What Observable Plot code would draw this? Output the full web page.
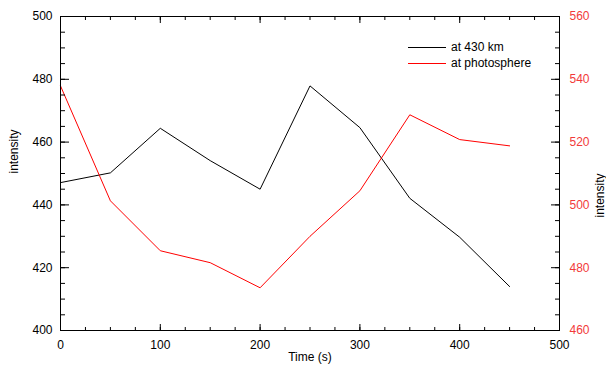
<!DOCTYPE html>
<html><head><meta charset="utf-8">
<script src="https://cdn.jsdelivr.net/npm/d3@7"></script>
<script src="https://cdn.jsdelivr.net/npm/@observablehq/plot@0.6"></script>
<style>
body{margin:0;background:#fff;font-family:"Liberation Sans",Arial,sans-serif}
#chart{position:relative;width:606px;height:367px}
#legend{position:absolute;left:408px;top:39px;font-size:12px;color:#000}
#legend .row{display:flex;align-items:center;height:16px;white-space:nowrap}
#legend .sw{display:inline-block;width:38px;height:0;border-top:1px solid;margin-right:5px}
</style>
</head><body>
<div id="chart"></div>
<script>
const times = [0, 50, 100, 150, 200, 250, 300, 350, 400, 450];
const at430km = [447.1, 450.2, 464.4, 454.1, 445.0, 477.9, 464.6, 442.1, 429.7, 414.0];
const atPhotosphere = [537.9, 501.3, 485.4, 481.6, 473.6, 490.0, 504.5, 528.7, 520.8, 518.8];
const xTicks = [0, 100, 200, 300, 400, 500];
const xMinorTicks = d3.range(0, 501, 25);
const leftTicks = [400, 420, 440, 460, 480, 500];
const leftMinorTicks = d3.range(400, 501, 5);
const rightTicks = [460, 480, 500, 520, 540, 560];
const seriesNames = ["at 430 km", "at photosphere"];
const seriesColors = ["#000000", "#ff0000"];
const rightOffset = 60; // right axis 460–560 shares the frame with left axis 400–500
const xLabel = "Time (s)";
const yLabel = "intensity";

const data430 = times.map((t, i) => ({t, v: at430km[i]}));
const dataPh = times.map((t, i) => ({t, v: atPhotosphere[i] - rightOffset}));
const noText = () => "";

const plot = Plot.plot({
  width: 606, height: 367,
  marginLeft: 60, marginRight: 47, marginTop: 16, marginBottom: 37,
  style: {fontFamily: "'Liberation Sans', Arial, sans-serif", fontSize: "12px", color: "#000", background: "#fff", overflow: "visible"},
  x: {domain: [0, 500]},
  y: {domain: [400, 500]},
  marks: [
    Plot.line(data430, {x: "t", y: "v", stroke: seriesColors[0], strokeWidth: 1}),
    Plot.line(dataPh, {x: "t", y: "v", stroke: seriesColors[1], strokeWidth: 1}),
    Plot.frame({stroke: "#000", strokeWidth: 1}),
    // x ticks, inward, bottom and top
    Plot.axisX(xMinorTicks, {anchor: "bottom", tickSize: -3, tickFormat: noText, label: null}),
    Plot.axisX(xTicks, {anchor: "bottom", tickSize: -6, tickFormat: noText, label: null}),
    Plot.axisX(xMinorTicks, {anchor: "top", tickSize: -3, tickFormat: noText, label: null}),
    Plot.axisX(xTicks, {anchor: "top", tickSize: -6, tickFormat: noText, label: null}),
    Plot.axisX(xTicks, {anchor: "bottom", tickSize: 0, tickPadding: 10, tickFormat: d3.format("d"), label: null}),
    // left y
    Plot.axisY(leftMinorTicks, {anchor: "left", tickSize: -5, tickFormat: noText, label: null}),
    Plot.axisY(leftTicks, {anchor: "left", tickSize: -9, tickFormat: noText, label: null}),
    Plot.axisY(leftTicks, {anchor: "left", tickSize: 0, tickPadding: 8, tickFormat: d3.format("d"), label: null}),
    // right y
    Plot.axisY(leftMinorTicks, {anchor: "right", tickSize: -5, tickFormat: noText, label: null}),
    Plot.axisY(rightTicks.map(v => v - rightOffset), {anchor: "right", tickSize: -9, tickFormat: noText, label: null}),
    Plot.axisY(rightTicks.map(v => v - rightOffset), {anchor: "right", tickSize: 0, tickPadding: 10, tickFormat: d => d3.format("d")(d + rightOffset), color: "#f23a3a", label: null}),
    // axis titles
    Plot.text([xLabel], {text: d => d, frameAnchor: "bottom", dy: 30, fill: "#000", fontSize: 12}),
    Plot.text([yLabel], {text: d => d, frameAnchor: "left", dx: -46, rotate: -90, fill: "#000", fontSize: 12}),
    Plot.text([yLabel], {text: d => d, frameAnchor: "right", dx: 41, rotate: -90, fill: "#000", fontSize: 12})
  ]
});
const chart = document.getElementById("chart");
chart.appendChild(plot);

const legend = document.createElement("div");
legend.id = "legend";
seriesNames.forEach((name, i) => {
  const row = document.createElement("div");
  row.className = "row";
  const sw = document.createElement("span");
  sw.className = "sw";
  sw.style.borderTopColor = seriesColors[i];
  row.appendChild(sw);
  row.appendChild(document.createTextNode(name));
  legend.appendChild(row);
});
chart.appendChild(legend);
</script>
</body></html>
